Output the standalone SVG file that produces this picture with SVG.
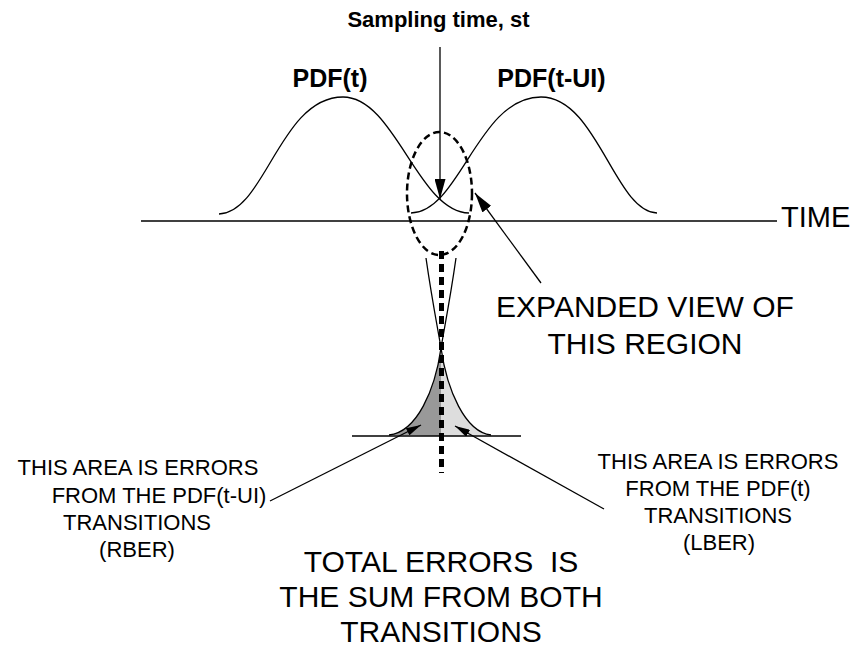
<svg xmlns="http://www.w3.org/2000/svg" width="854" height="648" viewBox="0 0 854 648">
<defs>
<marker id="ah" viewBox="0 0 20 11" refX="20" refY="5.5" markerWidth="20" markerHeight="11" markerUnits="userSpaceOnUse" orient="auto"><path d="M0,0 L20,5.5 L0,11 Z" fill="#000"/></marker>
<marker id="ahs" viewBox="0 0 15 8" refX="15" refY="4" markerWidth="15" markerHeight="8" markerUnits="userSpaceOnUse" orient="auto"><path d="M0,0 L15,4 L0,8 Z" fill="#000"/></marker>
</defs>
<style>
.ln{fill:none;stroke:#000;stroke-width:1.3}
.t{font-family:"Liberation Sans",Arial,sans-serif;fill:#000;text-anchor:middle}
.b{font-weight:bold}
.big{font-size:30px}
.sm{font-size:22px}
</style>
<rect width="854" height="648" fill="#fff"/>

<g id="axis">
<line class="ln" x1="141" y1="221" x2="777" y2="221"/>
<text class="t" x="781" y="227" font-size="29" style="text-anchor:start">TIME</text>
</g>

<g id="pdf-t">
<path class="ln" d="M219,214 C265,213 280,97 343,97 C395,97 418,212 469,213"/>
<text class="t b" x="330" y="87" font-size="25">PDF(t)</text>
</g>

<g id="pdf-t-ui">
<path class="ln" d="M411,213 C460,212 478,97 541,97 C597,97 615,212 657,213"/>
<text class="t b" x="551.5" y="87" font-size="25">PDF(t-UI)</text>
</g>

<g id="region">
<ellipse cx="439.5" cy="193.5" rx="32.5" ry="61.5" fill="none" stroke="#000" stroke-width="2.5" stroke-dasharray="7 4"/>
</g>

<g id="expanded">
<path d="M441,348 C435,390 417,432 389,435 L441,436 Z" fill="#999"/>
<path d="M441,348 C447,390 465,432 491,435 L441,436 Z" fill="#ddd"/>
<line class="ln" x1="352" y1="436" x2="521" y2="436"/>
<path class="ln" d="M426,258 C432,300 438,330 441,348 C447,390 465,432 491,435"/>
<path class="ln" d="M456,258 C450,300 444,330 441,348 C435,390 417,432 389,435"/>
<line x1="441.5" y1="251" x2="441.5" y2="473" stroke="#000" stroke-width="5" stroke-dasharray="8 5"/>
</g>

<g id="labels">
<text class="t b" x="438.5" y="27" font-size="22">Sampling time, st</text>
<text class="t big" x="645" y="317">EXPANDED VIEW OF</text>
<text class="t big" x="645" y="354">THIS REGION</text>
<text class="t sm" x="138" y="475">THIS AREA IS ERRORS</text>
<text class="t sm" x="159" y="503">FROM THE PDF(t-UI)</text>
<text class="t sm" x="137" y="530">TRANSITIONS</text>
<text class="t sm" x="137" y="557">(RBER)</text>
<text class="t sm" x="718" y="469">THIS AREA IS ERRORS</text>
<text class="t sm" x="718" y="496">FROM THE PDF(t)</text>
<text class="t sm" x="718" y="523">TRANSITIONS</text>
<text class="t sm" x="719" y="550">(LBER)</text>
<text class="t big" x="441" y="572" xml:space="preserve">TOTAL ERRORS  IS</text>
<text class="t big" x="441" y="607">THE SUM FROM BOTH</text>
<text class="t big" x="441" y="642">TRANSITIONS</text>
</g>

<g id="connectors">
<line class="ln" x1="440" y1="47" x2="440" y2="199" marker-end="url(#ah)"/>
<line class="ln" x1="541" y1="283" x2="475" y2="193" marker-end="url(#ah)"/>
<line class="ln" x1="270" y1="501" x2="421" y2="425" marker-end="url(#ahs)"/>
<line class="ln" x1="604" y1="509" x2="455" y2="426" marker-end="url(#ahs)"/>
</g>
</svg>
